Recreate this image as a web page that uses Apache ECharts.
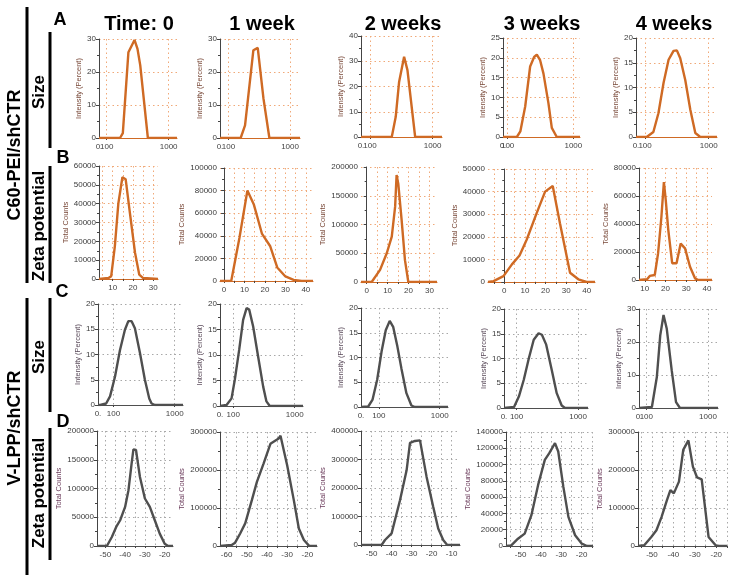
<!DOCTYPE html>
<html><head><meta charset="utf-8">
<script src="https://cdn.jsdelivr.net/npm/echarts@6/dist/echarts.min.js"></script>
<style>html,body{margin:0;padding:0;background:#fff}#c{width:734px;height:584px}</style>
</head><body><div id="c"></div>
<script>
// ---------- DATA ----------
const colTitles = ['Time: 0', '1 week', '2 weeks', '3 weeks', '4 weeks'];
const rowLetters = ['A', 'B', 'C', 'D'];
const groupNames = ['C60-PEI/shCTR', 'V-LPP/shCTR'];
const sizeAxisTitle = 'Intensity (Percent)';
const zetaAxisTitle = 'Total Counts';

// Row A: C60-PEI/shCTR size distribution, [size nm, intensity %]
const c60Size_t0 = [[75,0],[164,0],[182,1.5],[224,26],[281,29.7],[314,27],[348,22],[462,0],[1365,0]];
const c60Size_w1 = [[73,0],[158,0],[186,3.8],[254,26.6],[299,27.3],[370,12],[462,0],[1450,0]];
const c60Size_w2 = [[72,0],[223,0],[258,8],[292,21.8],[351,31.8],[397,26.5],[527,0],[1413,0]];
const c60Size_w3 = [[85,0],[138,0],[156,1.4],[185,7.7],[220,17.8],[253,20.2],[278,20.8],[312,19.4],[351,16],[418,8.5],[470,2.3],[559,0],[1262,0]];
const c60Size_w4 = [[72,0],[106,0],[135,1],[162,4.8],[195,10.9],[234,15.6],[280,17.4],[316,17.5],[357,15.9],[428,11.5],[514,5.5],[616,0.8],[738,0],[1350,0]];

// Row B: C60-PEI/shCTR zeta potential, [mV, total counts]
const c60Zeta_t0 = [[3.3,0],[8,500],[9.3,1500],[11.1,17500],[12.8,40000],[14.8,54000],[16.4,53000],[18.5,35000],[21,14000],[23.1,2300],[25,500],[32.3,0]];
const c60Zeta_w1 = [[-2,0],[3.5,0],[7.5,38000],[11.4,80000],[14.5,68000],[18.5,42000],[22.5,31000],[26,12000],[30,4000],[34,1000],[38,0],[43.5,0]];
const c60Zeta_w2 = [[-2.7,0],[2.4,0],[6.4,21000],[9.6,50000],[12,79000],[13.6,131000],[14.3,186000],[15.1,171000],[16.7,108000],[18.3,38000],[19.9,0],[33.6,0]];
const c60Zeta_w3 = [[-7.9,0],[-5.2,400],[-0.4,2600],[3.7,7800],[7.4,11700],[10.9,18800],[15.7,30500],[19.8,40000],[23.5,42500],[27,26000],[31.9,4100],[35.9,1200],[39.9,0],[44,0]];
const c60Zeta_w4 = [[7.2,0],[11.1,500],[12.4,2900],[14.8,3600],[16.4,19000],[18,45000],[19.2,70000],[20.1,57000],[21.3,36000],[23.2,12000],[25.3,12000],[27.3,26000],[29.4,22600],[31.8,9500],[34.2,1200],[35.8,0],[42.4,0]];

// Row C: V-LPP/shCTR size distribution
const vlppSize_t0 = [[56,0],[61,0],[76,0.3],[88,1.7],[106,5.6],[128,10.9],[154,14.9],[175,16.6],[198,16.6],[224,15.2],[271,10.3],[326,5],[384,1.3],[419,0.3],[474,0],[1365,0]];
const vlppSize_w1 = [[61,0],[78,0.2],[94,1.5],[106,5.1],[125,11],[145,16.9],[165,19.2],[182,18.9],[211,15.6],[254,9.7],[307,3.8],[347,0.9],[393,0],[1363,0]];
const vlppSize_w2 = [[51,0],[67,0.1],[79,1.5],[94,5.5],[111,11.2],[130,15.5],[151,17.4],[172,16.2],[202,12.2],[235,7.8],[284,2.8],[343,0.3],[389,0],[1368,0]];
const vlppSize_w3 = [[62.5,0],[91,0.2],[109,2.3],[131,5.7],[158,10],[190,13.8],[228,15.1],[258,14.8],[303,12.8],[373,7.7],[449,3],[541,0.5],[612,0],[1447,0]];
const vlppSize_w4 = [[76,0],[123,0.3],[148,9.4],[168,22],[190,28.2],[214,24.1],[258,11.4],[303,1.8],[351,0],[1453,0]];

// Row D: V-LPP/shCTR zeta potential
const vlppZeta_t0 = [[-54.2,0],[-49.2,0],[-46.7,15700],[-44.5,33100],[-42.5,44800],[-40,68000],[-38.3,97000],[-36.7,143600],[-35.8,168000],[-34.5,167000],[-32.5,120000],[-30,82600],[-27.5,68000],[-25,44800],[-22.5,21500],[-20,4000],[-18.3,0],[-15.8,0]];
const vlppZeta_w1 = [[-63.3,0],[-57.5,2600],[-55.8,8700],[-53.3,33000],[-50.8,59500],[-47.5,120700],[-45,168800],[-41.7,217000],[-38.3,269000],[-34.2,283000],[-33.3,290000],[-30,212500],[-26.7,120700],[-24.2,46000],[-21.7,15700],[-19.2,900],[-15.2,0]];
const vlppZeta_w2 = [[-55.3,0],[-45,0],[-43.3,17500],[-40,40800],[-35.8,157000],[-32.5,262000],[-30.8,358000],[-28.3,365000],[-25.8,367000],[-22.5,239000],[-19.2,134000],[-16.7,58000],[-14.2,17500],[-12.2,0],[-5.8,0]];
const vlppZeta_w3 = [[-57.2,0],[-54.6,800],[-51.3,9000],[-48,15200],[-44.7,37900],[-41.4,75000],[-38.1,105800],[-35.9,114000],[-33.1,126400],[-31.5,116000],[-29,72900],[-26.5,35800],[-23.2,13200],[-19.9,2900],[-17.4,0],[-14.4,0]];
const vlppZeta_w4 = [[-56.5,0],[-53.6,1800],[-50.3,23800],[-47.9,41500],[-45.5,76700],[-43,120800],[-41.4,147300],[-39.8,138500],[-37.4,169400],[-35.4,253000],[-33,278000],[-30.9,209000],[-29,180800],[-26.8,175500],[-23.6,23800],[-20.3,1800],[-18.7,0],[-15,0]];

// Axis ranges / ticks
const xRangeA = [[75,1365],[73,1450],[72,1413],[85,1262],[72,1350]];
const xRangeB = [[3.3,32.3],[-2,43.5],[-2.7,33.6],[-7.9,44],[7.2,42.4]];
const xRangeC = [[56,1365],[61,1363],[51,1368],[62.5,1447],[76,1453]];
const xRangeD = [[-54.2,-15.8],[-63.3,-15.2],[-55.3,-5.8],[-57.2,-14.4],[-56.5,-15]];
const sizeTickLabels = [100, 1000];
const sizeStartLabel = '0.';
const xLabelsB = [[10,20,30],[0,10,20,30,40],[0,10,20,30],[0,10,20,30,40],[10,20,30,40]];
const xLabelsD = [[-50,-40,-30,-20],[-60,-50,-40,-30,-20],[-50,-40,-30,-20,-10],[-50,-40,-30,-20],[-50,-40,-30,-20]];
const yMaxA = [30,30,40,25,20],            yStepA = [10,10,10,5,5];
const yMaxB = [60000,100000,200000,50000,80000], yStepB = [10000,20000,50000,10000,20000];
const yMaxC = [20,20,20,20,30],            yStepC = [5,5,5,5,10];
const yMaxD = [200000,300000,400000,140000,300000], yStepD = [50000,100000,100000,20000,100000];

// ---------- LAYOUT (pixel boxes: left, top, right, bottom) ----------
const boxA = [[99,39,177,138],[220,39,300,138],[361,36,442,137],[503,38,580,137],[636,38,717,137]];
const boxB = [[99,166,158,279],[220,168,313,281],[361,167,437,282],[488,169,595,282],[639,168,712,280]];
const boxC = [[98,304,183,405],[220,304,303,406],[361,308,448,407],[504,309,588,408],[639,309,718,408]];
const boxD = [[97,431,173,546],[220,432,317,546],[361,431,460,545],[506,432,593,546],[638,432,727,546]];

const ORANGE = '#cf6a24', ORANGE_GRID = '#f0a978', GRAY = '#4f4f4f', GRAY_GRID = '#a8a8a8';
const FONT = '"Liberation Sans", Arial, sans-serif';

const rows = [
  {data:[c60Size_t0,c60Size_w1,c60Size_w2,c60Size_w3,c60Size_w4], box:boxA, xr:xRangeA, ymax:yMaxA, ystep:yStepA, log:true, color:ORANGE, grid:ORANGE_GRID, title:sizeAxisTitle, gap:16, tcol:'#7a4a3a'},
  {data:[c60Zeta_t0,c60Zeta_w1,c60Zeta_w2,c60Zeta_w3,c60Zeta_w4], box:boxB, xr:xRangeB, ymax:yMaxB, ystep:yStepB, log:false, labels:xLabelsB, color:ORANGE, grid:ORANGE_GRID, title:zetaAxisTitle, gap:29, tcol:'#7a4a3a'},
  {data:[vlppSize_t0,vlppSize_w1,vlppSize_w2,vlppSize_w3,vlppSize_w4], box:boxC, xr:xRangeC, ymax:yMaxC, ystep:yStepC, log:true, color:GRAY, grid:GRAY_GRID, title:sizeAxisTitle, gap:16, tcol:'#5a4a5a'},
  {data:[vlppZeta_t0,vlppZeta_w1,vlppZeta_w2,vlppZeta_w3,vlppZeta_w4], box:boxD, xr:xRangeD, ymax:yMaxD, ystep:yStepD, log:false, labels:xLabelsD, color:GRAY, grid:GRAY_GRID, title:zetaAxisTitle, gap:30, tcol:'#6a3a5a'}
];

const grids = [], xAxes = [], extraX = [], yAxes = [], series = [];
rows.forEach((row, r) => {
  for (let c = 0; c < 5; c++) {
    const i = grids.length;
    const b = row.box[c];
    grids.push({left:b[0], top:b[1], width:b[2]-b[0], height:b[3]-b[1], containLabel:false});
    const [xmin, xmax] = row.xr[c];
    const splitStyle = {show:true, lineStyle:{type:[1.5,3], color:row.grid, width:1}};
    const labelStyle = {fontSize:8, color:'#444', margin:5, fontFamily:FONT};
    if (row.log) {
      xAxes.push({
        gridIndex:i, type:'log', logBase:10, min:xmin, max:xmax, position:'bottom', offset:0,
        axisLine:{show:true, onZero:false, lineStyle:{color:row.color, width:1}},
        axisTick:{show:true, customValues:sizeTickLabels, length:2, lineStyle:{color:'#444'}},
        axisLabel:Object.assign({show:true, customValues:sizeTickLabels, formatter:(v)=> String(Math.round(v))}, labelStyle),
        splitLine:splitStyle
      });
      // companion axis carrying only the truncated start label
      extraX.push({
        gridIndex:i, type:'log', logBase:10, min:xmin, max:xmax, position:'bottom', offset:0,
        axisLine:{show:false, onZero:false}, axisTick:{show:false}, splitLine:{show:false},
        axisLabel:Object.assign({show:true, customValues:[xmin], showMinLabel:true, formatter:()=> sizeStartLabel}, labelStyle)
      });
    } else {
      const ticks = [];
      for (let t = Math.ceil(xmin/5)*5; t <= xmax; t += 5) ticks.push(t);
      xAxes.push({
        gridIndex:i, type:'value', min:xmin, max:xmax, position:'bottom',
        axisLine:{show:true, onZero:false, lineStyle:{color:row.color, width:1}},
        axisTick:{show:true, customValues:ticks, length:2, lineStyle:{color:'#444'}},
        axisLabel:Object.assign({show:true, customValues:row.labels[c], formatter:(v)=> String(v)}, labelStyle),
        splitLine:splitStyle
      });
    }
    yAxes.push({
      gridIndex:i, type:'value', min:0, max:row.ymax[c], interval:row.ystep[c],
      name:row.title, nameLocation:'middle', nameGap:row.gap,
      nameTextStyle:{fontSize:7.5, color:row.tcol, fontFamily:FONT},
      axisLine:{show:true, lineStyle:{color:'#444', width:1}},
      axisTick:{show:true, length:3, lineStyle:{color:'#444'}},
      minorTick:{show:true, splitNumber:2, length:2, lineStyle:{color:'#444'}},
      axisLabel:{fontSize:8, color:'#3a3a3a', margin:3, fontFamily:FONT, formatter:(v)=> String(v)},
      splitLine:splitStyle
    });
    series.push({
      type:'line', xAxisIndex:i, yAxisIndex:i, data:row.data[c], showSymbol:false, smooth:false,
      lineStyle:{color:row.color, width:2.4}, itemStyle:{color:row.color}, silent:true, z:3
    });
  }
});

// ---------- annotations ----------
const colCenters = [139, 262, 403, 542, 674];
const graphic = [];
colTitles.forEach((t, k) => graphic.push({type:'text', x:colCenters[k], y:24,
  style:{text:t, font:'bold 20px '+FONT, fill:'#000', align:'center', verticalAlign:'middle'}}));
const letterPos = [[60,20],[63,158],[62,292],[63,422]];
rowLetters.forEach((t, k) => graphic.push({type:'text', x:letterPos[k][0], y:letterPos[k][1],
  style:{text:t, font:'bold 18px '+FONT, fill:'#000', align:'center', verticalAlign:'middle'}}));
const vtext = (t, x, y, size) => ({type:'text', x:x, y:y, rotation:Math.PI/2,
  style:{text:t, font:'bold '+size+'px '+FONT, fill:'#000', align:'center', verticalAlign:'middle'}});
const vline = (x, y1, y2) => ({type:'line', shape:{x1:x, y1:y1, x2:x, y2:y2}, style:{stroke:'#000', lineWidth:3}});
graphic.push(vtext(groupNames[0], 15, 155, 18), vline(27, 7, 283));
graphic.push(vtext(groupNames[1], 15, 428, 18), vline(27, 298, 575));
graphic.push(vtext('Size', 39, 92, 17), vline(50, 32, 148));
graphic.push(vtext('Zeta potential', 39, 226, 17), vline(50, 166, 283));
graphic.push(vtext('Size', 39, 357, 17), vline(50, 298, 412));
graphic.push(vtext('Zeta potential', 39, 493, 17), vline(50, 428, 560));

const chart = echarts.init(document.getElementById('c'), null, {renderer:'canvas'});
chart.setOption({animation:false, backgroundColor:'#fff', grid:grids, xAxis:xAxes.concat(extraX), yAxis:yAxes, series:series, graphic:graphic});
</script></body></html>
